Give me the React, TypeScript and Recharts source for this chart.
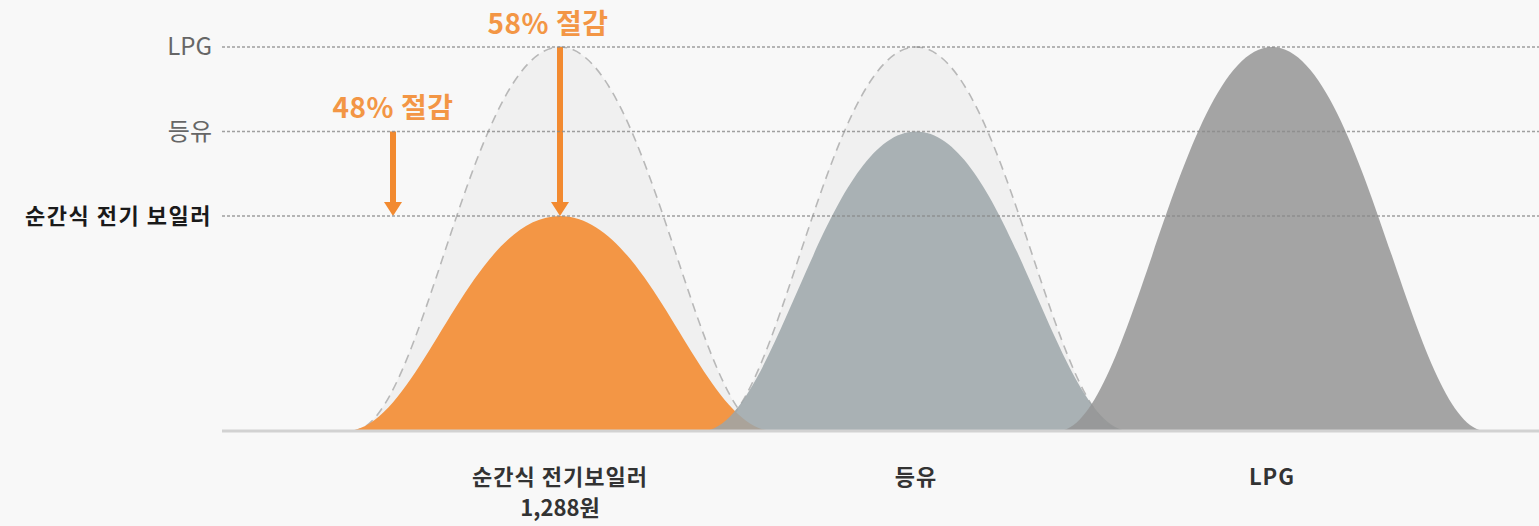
import React from 'react';
import { ComposedChart, Bar, XAxis, YAxis, ReferenceLine } from 'recharts';

const categories = ['순간식 전기보일러', '등유', 'LPG'];
const costIndex = [56, 78, 100];
const ghostIndex: (number | null)[] = [100, 100, null];
const priceLabels = ['1,288원', '', ''];
const levelLabels = ['순간식 전기 보일러', '등유', 'LPG'];
const levelBold = [true, false, false];
const savingsText = ['58% 절감', '48% 절감'];
const savingsFrom = [100, 78];
const fills = ['#f39645', '#9ca6a9', '#959595'];
const fillOpacities = [1, 0.85, 0.85];

const data = categories.map((name, i) => ({ name, cost: costIndex[i], ghost: ghostIndex[i] }));

const FONT = '"Noto Sans CJK KR", "Noto Sans", sans-serif';
const HALF = 214;
const A = 0.34;
const B = 0.43;
const ARROW = '#f28a30';
const ARROW_DX = [0, -167];
const TEXT_DX = [-12, 0];

function bellPath(cx: number, base: number, top: number, h: number, close: boolean) {
  const l = cx - h;
  const r = cx + h;
  return `M${l},${base} C${l + A * h},${base} ${cx - B * h},${top} ${cx},${top} C${cx + B * h},${top} ${r - A * h},${base} ${r},${base}${close ? ' Z' : ''}`;
}

const GhostShape = (p: any) => {
  const { x, y, width, height } = p;
  if (!height || height <= 0 || isNaN(height)) return <g />;
  const cx = x + width / 2;
  const base = y + height;
  return (
    <g>
      <path d={bellPath(cx, base, y, HALF - 6, true)} fill="#f0f0f0" stroke="none" />
      <path d={bellPath(cx, base, y, HALF - 6, false)} fill="none" stroke="#b8b8b8" strokeWidth={1.6} strokeDasharray="9 6" />
    </g>
  );
};

const CostShape = (p: any) => {
  const { x, y, width, height, payload } = p;
  if (!height || height <= 0) return <g />;
  const idx = payload ? categories.indexOf(payload.name) : p.index;
  const cx = x + width / 2;
  const base = y + height;
  const ppu = height / costIndex[idx];
  return (
    <g>
      <path d={bellPath(cx, base, y, HALF, true)} fill={fills[idx]} fillOpacity={fillOpacities[idx]} />
      {idx === 0 &&
        savingsText.map((t, k) => {
          const ax = cx + ARROW_DX[k];
          const y0 = base - savingsFrom[k] * ppu;
          return (
            <g key={k}>
              <line x1={ax} y1={y0} x2={ax} y2={y - 12} stroke={ARROW} strokeWidth={6} />
              <path d={`M${ax - 9},${y - 14} L${ax + 9},${y - 14} L${ax},${y} Z`} fill={ARROW} />
              <text
                x={ax + TEXT_DX[k]}
                y={y0 - 13}
                textAnchor="middle"
                fontFamily={FONT}
                fontSize={28}
                fontWeight={700}
                letterSpacing={0.5}
                fill="#f39645"
              >
                {t}
              </text>
            </g>
          );
        })}
    </g>
  );
};

const Tick = (p: any) => {
  const { x, y, payload } = p;
  const i = categories.indexOf(payload.value);
  return (
    <g>
      <text x={x} y={y + 54} textAnchor="middle" fontFamily={FONT} fontSize={22} fontWeight={700} letterSpacing={1} fill="#333">
        {payload.value}
      </text>
      {priceLabels[i] ? (
        <text x={x} y={y + 85} textAnchor="middle" fontFamily={FONT} fontSize={22} fontWeight={700} fill="#333">
          {priceLabels[i]}
        </text>
      ) : null}
    </g>
  );
};

export default function App() {
  return (
    <div style={{ position: 'absolute', left: 0, top: 0, width: 1539, height: 526, background: '#f8f8f8' }}>
      <ComposedChart
        width={1539}
        height={526}
        data={data}
        margin={{ top: 47, right: 0, bottom: 0, left: 222 }}
        barSize={10}
        barGap={-10}
      >
        <XAxis
          dataKey="name"
          height={95}
          padding={{ left: 160, right: 89 }}
          axisLine={{ stroke: '#d2d2d2', strokeWidth: 3 }}
          tickLine={false}
          tickSize={0}
          tickMargin={0}
          interval={0}
          tick={<Tick />}
        />
        <YAxis hide domain={[0, 100]} />
        <Bar dataKey="ghost" shape={GhostShape} isAnimationActive={false} />
        <Bar dataKey="cost" shape={CostShape} isAnimationActive={false} />
        {costIndex.map((v, i) => (
          <ReferenceLine
            key={i}
            y={v}
            stroke="#8a8a8a"
            strokeOpacity={0.8}
            strokeWidth={1.5}
            strokeDasharray="3 2"
            label={(lp: any) => {
              const vb = lp.viewBox || {};
              return (
                <text
                  x={(vb.x ?? 222) - 10}
                  y={vb.y ?? 0}
                  dy="0.35em"
                  textAnchor="end"
                  fontFamily={FONT}
                  fontSize={levelBold[i] ? 22 : 24}
                  fontWeight={levelBold[i] ? 700 : 400}
                  letterSpacing={levelBold[i] ? 1.5 : 0}
                  fill={levelBold[i] ? '#1a1a1a' : '#666'}
                >
                  {levelLabels[i]}
                </text>
              );
            }}
          />
        ))}
      </ComposedChart>
    </div>
  );
}
